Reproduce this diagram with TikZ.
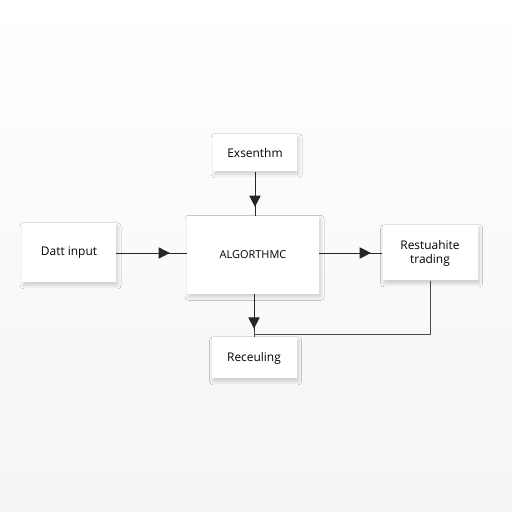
\documentclass[tikz,border=0pt]{standalone}
\usepackage{fontspec}
\setmainfont{Open Sans}
\usetikzlibrary{arrows.meta,shadows.blur,decorations.markings}

\tikzset{
    card/.style={fill=white, inner sep=0pt, align=center,
        font=\fontsize{8.5}{10}\selectfont,
        blur shadow={shadow blur steps=8, shadow blur radius=2.5pt, shadow xshift=1.2pt, shadow yshift=-2pt, shadow opacity=18}},
    flow/.style={line width=0.7pt, draw=black!85},
    midarrow/.style={flow, postaction={decorate},
        decoration={markings, mark=at position #1 with {\arrow{Triangle[length=2.8mm,width=2.8mm]}}}},
}

\begin{document}
\begin{tikzpicture}
    % background
    \shade[top color=white, bottom color=black!4] (0,0) rectangle (12.8,12.8);
    \useasboundingbox (0,0) rectangle (12.8,12.8);

    \node[card, minimum width=2.1cm,  minimum height=0.925cm] (exs)  at (6.375,8.975) {Exsenthm};
    \node[card, minimum width=2.35cm, minimum height=1.475cm] (data) at (1.725,6.475) {Datt input};
    \node[card, minimum width=3.3cm,  minimum height=1.95cm, font=\fontsize{7.8}{9}\selectfont] (algo) at (6.325,6.425) {ALGORTHMC};
    \node[card, minimum width=2.375cm,minimum height=1.375cm] (res)  at (10.75,6.475) {Restuahite\\trading};
    \node[card, minimum width=2.125cm,minimum height=1.025cm] (rec)  at (6.35,3.85) {Receuling};

    \coordinate (fbend) at (6.35,4.45);

    \draw[midarrow=0.8] (exs.south) -- (exs.south |- algo.north);
    \draw[midarrow=0.76] (data.east) -- (algo.west |- data.east);
    \draw[midarrow=0.82] (algo.east |- res.west) -- (res.west);
    \draw[midarrow=0.8] (algo.south -| rec.north) -- (rec.north);
    % feedback
    \draw[flow, draw=black!70] (res.south) |- (fbend);
    \draw[flow, draw=black!70] ([yshift=2pt]fbend) -- ([yshift=-2pt]fbend);
\end{tikzpicture}
\end{document}
